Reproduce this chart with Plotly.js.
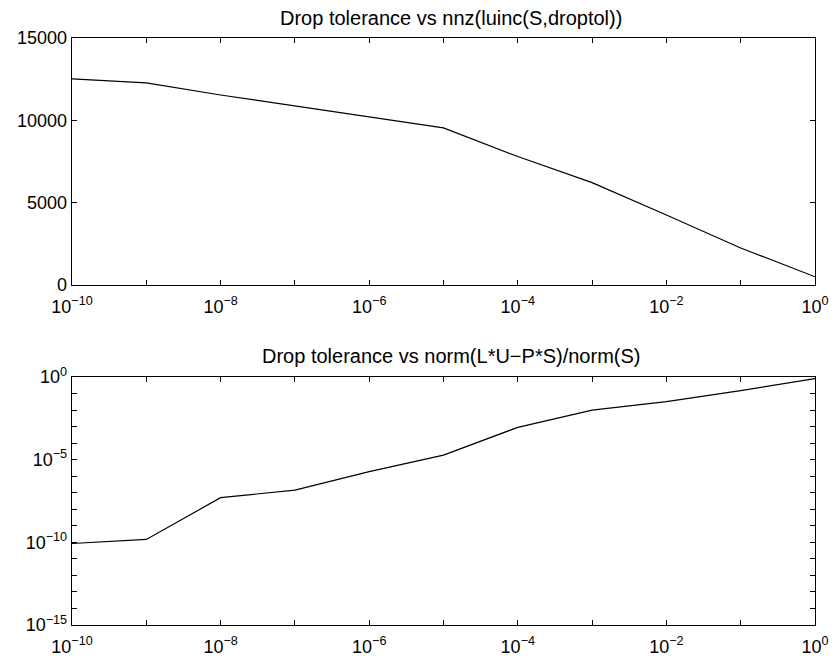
<!DOCTYPE html>
<html><head><meta charset="utf-8">
<script src="https://cdn.plot.ly/plotly-3.0.1.min.js"></script>
<style>body{margin:0;background:#fff}#c{width:835px;height:656px}</style>
</head><body><div id="c"></div>
<script>
// Drop tolerances (x), one per decade
const droptol = [1e-10,1e-9,1e-8,1e-7,1e-6,1e-5,1e-4,1e-3,1e-2,1e-1,1];
// nnz(luinc(S,droptol))
const nnzValues = [12520,12270,11540,10880,10230,9540,7800,6220,4250,2250,500];
// norm(L*U-P*S)/norm(S)
const relError = [8.5e-11,1.5e-10,5e-8,1.45e-7,1.9e-6,1.9e-5,9e-4,1e-2,3.2e-2,1.5e-1,8e-1];

const title1 = 'Drop tolerance vs nnz(luinc(S,droptol))';
const title2 = 'Drop tolerance vs norm(L*U\u2212P*S)/norm(S)';

const xTickVals = droptol;
const xTickText = droptol.map((v,i)=>{const e=Math.round(Math.log10(v));return (e%2===0)?('10<sup>'+(e<0?'\u2212'+(-e):e)+'</sup>'):'';});
const y1TickVals = [0,5000,10000,15000];
const y1TickText = ['0','5000','10000','15000'];
const y2TickVals = [];
const y2TickText = [];
for(let e=-15;e<=0;e++){y2TickVals.push(Math.pow(10,e));y2TickText.push(e%5===0?('10<sup>'+(e<0?'\u2212'+(-e):e)+'</sup>'):'');}

const font = {family:'Liberation Sans, Arial, sans-serif', size:18, color:'#000'};
const titleFont = {family:'Liberation Sans, Arial, sans-serif', size:20, color:'#000'};
const axisCommon = {showgrid:false, zeroline:false, showline:true, linecolor:'#000', linewidth:1.3,
  mirror:'ticks', ticks:'inside', ticklen:5, tickwidth:1, tickcolor:'#000', tickfont:font};

const data = [
  {x:droptol, y:nnzValues, xaxis:'x', yaxis:'y', mode:'lines', line:{color:'#000', width:1.2}, hoverinfo:'skip'},
  {x:droptol, y:relError, xaxis:'x2', yaxis:'y2', mode:'lines', line:{color:'#000', width:1.2}, hoverinfo:'skip'}
];
const layout = {
  width:835, height:656, showlegend:false,
  paper_bgcolor:'#fff', plot_bgcolor:'#fff',
  margin:{l:72, r:20, t:38, b:31},
  font:font,
  xaxis: Object.assign({}, axisCommon, {type:'log', range:[-10,0], domain:[0,1], anchor:'y',
    tickvals:xTickVals, ticktext:xTickText, ticklabelstandoff:5}),
  yaxis: Object.assign({}, axisCommon, {range:[0,15000], domain:[0.5792,1], anchor:'x',
    tickvals:y1TickVals, ticktext:y1TickText}),
  xaxis2: Object.assign({}, axisCommon, {type:'log', range:[-10,0], domain:[0,1], anchor:'y2',
    tickvals:xTickVals, ticktext:xTickText, ticklabelstandoff:5}),
  yaxis2: Object.assign({}, axisCommon, {type:'log', range:[-15,0], domain:[0,0.4225], anchor:'x2',
    tickvals:y2TickVals, ticktext:y2TickText}),
  annotations:[
    {text:title1, xref:'paper', yref:'paper', x:0.51, y:1, yshift:20, xanchor:'center', yanchor:'middle', showarrow:false, font:titleFont},
    {text:title2, xref:'paper', yref:'paper', x:0.51, y:0.4225, yshift:21, xanchor:'center', yanchor:'middle', showarrow:false, font:titleFont}
  ]
};
Plotly.newPlot('c', data, layout, {staticPlot:true, displayModeBar:false});
</script></body></html>
